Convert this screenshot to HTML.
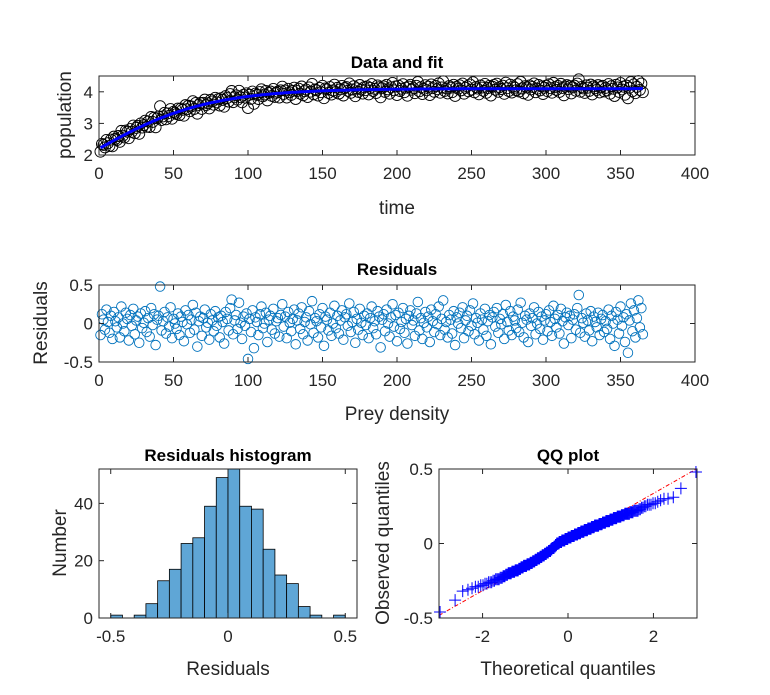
<!DOCTYPE html>
<html><head><meta charset="utf-8"><style>
body{margin:0;background:#fff}
svg{display:block;font-family:"Liberation Sans",sans-serif}
</style></head><body>
<svg id="fig" width="770" height="695" xmlns="http://www.w3.org/2000/svg"></svg>
<script>
const residuals=[-0.15,0.12,0.05,-0.08,0.18,0.02,-0.12,0.10,-0.20,0.15,0.03,-0.05,0.08,-0.18,0.22,0.00,-0.10,0.14,0.06,-0.22,
0.11,-0.03,0.19,-0.14,0.04,0.09,-0.25,0.13,-0.06,0.01,0.16,-0.11,0.07,-0.17,0.20,-0.02,0.12,-0.28,0.05,0.10,
0.48,-0.09,0.03,0.15,-0.13,0.08,-0.04,0.21,-0.19,0.06,0.00,-0.07,0.13,-0.15,0.09,0.02,-0.23,0.17,-0.01,0.11,
-0.12,0.05,0.24,-0.08,0.14,-0.30,0.03,0.09,-0.16,0.07,0.18,-0.05,0.01,-0.21,0.12,0.04,-0.10,0.16,-0.03,0.08,
-0.18,0.10,0.02,-0.26,0.15,0.06,-0.09,0.20,0.31,-0.14,0.04,0.11,-0.07,0.27,0.01,-0.20,0.09,-0.03,0.13,-0.46,
0.06,-0.11,0.17,-0.32,0.08,0.02,-0.15,0.12,0.22,-0.06,0.00,0.14,-0.24,0.05,0.10,-0.08,0.19,-0.13,0.03,0.07,
-0.17,0.11,0.25,-0.04,0.09,-0.19,0.15,0.01,-0.10,0.06,0.18,-0.27,0.04,0.13,-0.07,0.21,-0.14,0.02,0.08,-0.22,
0.16,-0.01,0.29,-0.12,0.07,0.03,-0.18,0.12,-0.05,0.20,-0.29,0.09,0.05,-0.09,0.14,-0.16,0.00,0.23,-0.06,0.10,
-0.13,0.04,0.17,-0.21,0.08,0.12,-0.03,0.26,-0.11,0.02,0.15,-0.25,0.06,-0.08,0.19,0.01,-0.15,0.10,-0.02,0.13,
-0.19,0.07,0.22,-0.06,0.03,-0.14,0.16,0.09,-0.31,0.05,0.12,-0.10,0.18,0.00,-0.17,0.08,0.25,-0.04,0.11,-0.23,
0.14,-0.07,0.02,0.20,-0.12,0.06,-0.26,0.10,0.17,-0.02,0.04,-0.16,0.13,0.28,-0.09,0.07,-0.20,0.01,0.15,-0.05,
0.09,-0.24,0.18,0.03,-0.11,0.12,-0.01,0.22,-0.15,0.06,0.30,-0.08,0.02,-0.18,0.11,0.05,-0.13,0.16,-0.28,0.08,
0.00,0.14,-0.06,0.21,-0.19,0.04,0.10,-0.10,0.17,-0.03,0.26,-0.14,0.07,0.01,-0.22,0.13,0.05,-0.08,0.19,-0.16,
0.03,0.11,-0.27,0.08,0.15,-0.04,0.20,-0.12,0.06,-0.01,0.12,-0.20,0.24,0.02,-0.09,0.16,-0.15,0.09,0.04,-0.06,
0.18,-0.11,0.27,0.01,-0.18,0.10,0.05,-0.24,0.13,-0.03,0.07,0.21,-0.14,0.00,0.15,-0.07,0.09,-0.21,0.04,0.12,
-0.10,0.17,0.02,-0.16,0.23,0.06,-0.05,0.11,-0.13,0.19,0.03,-0.26,0.08,0.14,-0.02,0.10,-0.19,0.05,0.12,-0.08,
0.20,0.37,-0.12,0.07,0.01,-0.17,0.13,0.04,-0.09,0.16,-0.23,0.09,0.02,-0.05,0.14,-0.15,0.06,0.11,-0.11,0.03,
-0.07,0.18,-0.20,0.10,0.00,-0.29,0.15,0.05,-0.13,0.22,-0.03,0.08,-0.24,0.12,-0.38,0.04,0.26,-0.10,0.17,-0.18,
0.07,0.30,-0.05,0.20,-0.14];
const fitParams=[4.1,2.2,0.026]; // K, P0, r
const histEdges=[-0.5,-0.45,-0.4,-0.35,-0.3,-0.25,-0.2,-0.15,-0.1,-0.05,0,0.05,0.1,0.15,0.2,0.25,0.3,0.35,0.4,0.45,0.5];
const histCounts=[1,0,1,5,13,17,26,28,39,49,52,39,38,24,15,12,4,1,0,1];
const topXTicks=[0,50,100,150,200,250,300,350,400];
const topYTicks=[2,3,4];
const resYTicks=[-0.5,0,0.5];
const histXTicks=[-0.5,0,0.5];
const histYTicks=[0,20,40];
const qqXTicks=[-2,0,2];
const qqYTicks=[-0.5,0,0.5];

const NS="http://www.w3.org/2000/svg";
const svg=document.getElementById('fig');
function mk(tag,attrs,parent){const e=document.createElementNS(NS,tag);for(const k in attrs)e.setAttribute(k,attrs[k]);(parent||svg).appendChild(e);return e;}
function txt(s,x,y,opts,parent){const e=mk('text',Object.assign({x:x,y:y,'font-size':17,fill:'#262626','text-anchor':'middle'},opts||{}),parent);e.textContent=s;return e;}
function scale(d0,d1,r0,r1){return v=>r0+(v-d0)/(d1-d0)*(r1-r0);}
function axes(name,L,R,T,B,xd,yd,xt,yt,xfmt,yfmt){
  const g=mk('g',{});
  
  
  const sx=scale(xd[0],xd[1],L,R), sy=scale(yd[0],yd[1],B,T);
  mk('rect',{x:L,y:T,width:R-L,height:B-T,fill:'#fff'},g);
  return {g,sx,sy,finish(){
    const f=mk('g',{},g);
    
    
    mk('rect',{x:L,y:T,width:R-L,height:B-T,fill:'none',stroke:'#262626','stroke-width':1},f);
    xt.forEach(v=>{const x=sx(v);mk('line',{x1:x,x2:x,y1:B,y2:B-5,stroke:'#262626'},f);mk('line',{x1:x,x2:x,y1:T,y2:T+5,stroke:'#262626'},f);
      const t=txt(xfmt(v),x,B+24,{},f);});
    yt.forEach(v=>{const y=sy(v);mk('line',{x1:L,x2:L+5,y1:y,y2:y,stroke:'#262626'},f);mk('line',{x1:R,x2:R-5,y1:y,y2:y,stroke:'#262626'},f);
      const t=txt(yfmt(v),L-6,y+6,{'text-anchor':'end'},f);});
  }};
}
const fmt=v=>String(v);
function label(s,x,y,name,opts){const t=txt(s,x,y,opts);return t;}
const fit=t=>fitParams[0]/(1+((fitParams[0]-fitParams[1])/fitParams[1])*Math.exp(-fitParams[2]*t));
const days=residuals.map((_,i)=>i+1);

// Top: data and fit
let a=axes('data-fit-axes',99,695,76,155,[0,400],[2,4.5],topXTicks,topYTicks,fmt,fmt);
days.forEach((d,i)=>{const c=mk('circle',{cx:a.sx(d),cy:a.sy(fit(d)+residuals[i]*0.8),r:5.5,fill:'none',stroke:'#000','stroke-width':0.9},a.g);
  });
let p='';days.forEach((d,i)=>{p+=(i?'L':'M')+a.sx(d).toFixed(1)+','+a.sy(fit(d)).toFixed(1);});
const fl=mk('path',{d:p,fill:'none',stroke:'#0000ff','stroke-width':3},a.g);

a.finish();
label('Data and fit',397,68,'top-title',{'font-weight':'bold','font-size':17,fill:'#000'});
label('time',397,214,'top-x-label',{'font-size':19});
label('population',0,0,'top-y-label',{'font-size':19,transform:'translate(71,115) rotate(-90)'});

// Residuals
a=axes('residuals-axes',99,695,285,362,[0,400],[-0.5,0.5],topXTicks,resYTicks,fmt,fmt);
days.forEach((d,i)=>{const c=mk('circle',{cx:a.sx(d),cy:a.sy(residuals[i]),r:4.8,fill:'none',stroke:'#0072bd','stroke-width':0.9},a.g);
  });
a.finish();
label('Residuals',397,275,'residuals-title',{'font-weight':'bold','font-size':17,fill:'#000'});
label('Prey density',397,420,'residuals-x-label',{'font-size':19});
label('Residuals',0,0,'residuals-y-label',{'font-size':19,transform:'translate(47,323) rotate(-90)'});

// Histogram
a=axes('histogram-axes',99,357,469,618,[-0.55,0.55],[0,52],histXTicks,histYTicks,fmt,fmt);
histCounts.forEach((c,i)=>{if(!c)return;const x0=a.sx(histEdges[i]),x1=a.sx(histEdges[i+1]);
  const r=mk('rect',{x:x0,y:a.sy(c),width:x1-x0,height:a.sy(0)-a.sy(c),fill:'#5fa6d6',stroke:'#000','stroke-width':0.8},a.g);
  });
a.finish();
label('Residuals histogram',228,461,'histogram-title',{'font-weight':'bold','font-size':17,fill:'#000'});
label('Residuals',228,675,'histogram-x-label',{'font-size':19});
label('Number',0,0,'histogram-y-label',{'font-size':19,transform:'translate(66,543) rotate(-90)'});

// QQ plot
function norminv(p){const a1=-39.6968302866538,a2=220.946098424521,a3=-275.928510446969,a4=138.357751867269,a5=-30.6647980661472,a6=2.50662827745924;
const b1=-54.4760987982241,b2=161.585836858041,b3=-155.698979859887,b4=66.8013118877197,b5=-13.2806815528857;
const c1=-0.00778489400243029,c2=-0.322396458041136,c3=-2.40075827716184,c4=-2.54973253934373,c5=4.37466414146497,c6=2.93816398269878;
const d1=0.00778469570904146,d2=0.32246712907004,d3=2.445134137143,d4=3.75440866190742;let q,r;
if(p<0.02425){q=Math.sqrt(-2*Math.log(p));return(((((c1*q+c2)*q+c3)*q+c4)*q+c5)*q+c6)/((((d1*q+d2)*q+d3)*q+d4)*q+1);}
if(p>1-0.02425){q=Math.sqrt(-2*Math.log(1-p));return-(((((c1*q+c2)*q+c3)*q+c4)*q+c5)*q+c6)/((((d1*q+d2)*q+d3)*q+d4)*q+1);}
q=p-0.5;r=q*q;return(((((a1*r+a2)*r+a3)*r+a4)*r+a5)*r+a6)*q/(((((b1*r+b2)*r+b3)*r+b4)*r+b5)*r+1);}
a=axes('qq-axes',439,697,469,618,[-3.02,3.02],[-0.5,0.5],qqXTicks,qqYTicks,fmt,fmt);
const sorted=residuals.slice().sort((x,y)=>x-y), n=sorted.length;
const theo=sorted.map((_,i)=>norminv((i+0.5)/n));
const q1=sorted[Math.floor(n*0.25)],q3=sorted[Math.floor(n*0.75)],t1=norminv(0.25),t3=norminv(0.75);
const slope=(q3-q1)/(t3-t1),icpt=q1-slope*t1;
const rl=mk('line',{x1:a.sx(-3.02),y1:a.sy(icpt+slope*-3.02),x2:a.sx(3.02),y2:a.sy(icpt+slope*3.02),stroke:'#ff0000','stroke-width':1,'stroke-dasharray':'4,2,1,2'},a.g);

sorted.forEach((v,i)=>{const x=a.sx(theo[i]),y=a.sy(v);
  const m=mk('path',{d:`M${x-6},${y}H${x+6}M${x},${y-6}V${y+6}`,stroke:'#0000ff','stroke-width':1,fill:'none'},a.g);
  });
a.finish();
label('QQ plot',568,461,'qq-title',{'font-weight':'bold','font-size':17,fill:'#000'});
label('Theoretical quantiles',568,675,'qq-x-label',{'font-size':19});
label('Observed quantiles',0,0,'qq-y-label',{'font-size':19,transform:'translate(389,543) rotate(-90)'});
</script>
</body></html>
